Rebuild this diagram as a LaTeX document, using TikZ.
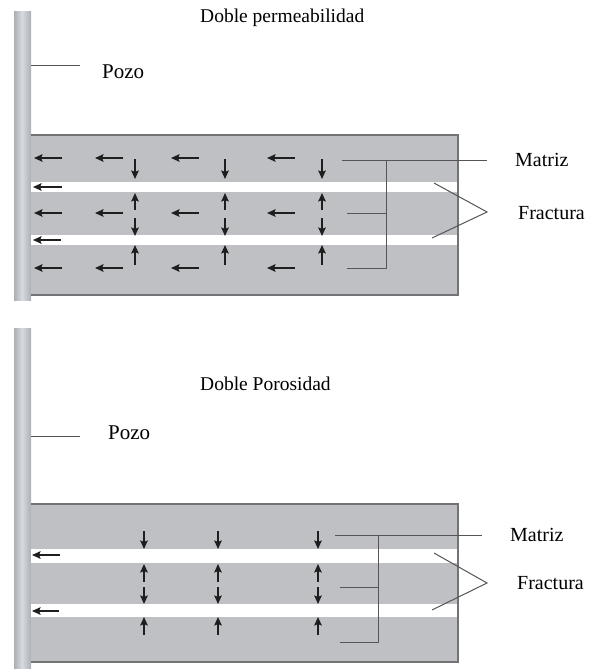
\documentclass[tikz,border=0pt]{standalone}
\usepackage{fontspec}
\setmainfont{Liberation Serif}
\usetikzlibrary{arrows.meta}
\definecolor{matrixgray}{RGB}{190,192,195}
\definecolor{wellgray}{RGB}{215,218,222}
\definecolor{welledge}{RGB}{172,176,181}
\definecolor{edgegray}{RGB}{115,115,118}
\definecolor{leadgray}{RGB}{85,85,88}
\definecolor{flowblack}{RGB}{30,30,30}
\begin{document}
\begin{tikzpicture}[x=1pt,y=-1pt,
    flow/.style={-{Stealth[length=8.5pt,width=7.5pt,inset=1.5pt]}, line width=2pt, flowblack},
    lead/.style={draw=leadgray, line width=1pt},
    lbl/.style={font=\fontsize{20}{24}\selectfont, anchor=west, inner sep=0pt},
    ttl/.style={font=\fontsize{19.5}{23}\selectfont, anchor=west, inner sep=0pt}]
    \useasboundingbox (0,0) rectangle (592,669);

    % ---------- Doble permeabilidad ----------
    \node[ttl] (titleA) at (200,18) {Doble permeabilidad};

    % Pozo
    \shade[left color=welledge, right color=wellgray] (14,12) rectangle (22,300);
    \shade[left color=wellgray, right color=welledge] (22,12) rectangle (31,300);
    \node[lbl, font=\fontsize{21}{24}\selectfont] (pozoA) at (102,72) {Pozo};
    \coordinate (pozoAw) at (31,66);
    \coordinate (pozoAe) at (80,66);
    \draw[lead] (pozoAw) -- (pozoAe);

    % Estratos (matriz) y fracturas
    \fill[matrixgray] (31,135) rectangle (458,295);
    \draw[edgegray, line width=1.2pt] (31,135) -- (458,135) -- (458,295) -- (31,295);
    \fill[white] (31,182) rectangle (457,192);
    \fill[white] (31,235) rectangle (457,245);

    % Flujo en la matriz hacia el pozo
    \foreach \y in {158,213,268}
        \foreach \x in {62,123,199,295}
            \draw[flow] (\x,\y) -- ++(-28,0);
    % Flujo en las fracturas
    \draw[flow] (62,187) -- (33,187);
    \draw[flow] (61,240) -- (33,240);
    % Flujo matriz-fractura
    \foreach \x in {135,225,322} {
        \draw[flow] (\x,159) -- (\x,179);
        \draw[flow] (\x,210) -- (\x,193);
        \draw[flow] (\x,218) -- (\x,236);
        \draw[flow] (\x,265) -- (\x,245);
    }

    % Etiquetas
    \node[lbl] (matrizA) at (515,160) {Matriz};
    \node[lbl] (fracturaA) at (518,213) {Fractura};
    \coordinate (mAtop) at (342,160);
    \coordinate (mAjoin) at (386,160);
    \coordinate (mAend) at (487,160);
    \coordinate (mAmid) at (347,213);
    \coordinate (mAlow) at (347,268);
    \draw[lead] (mAtop) -- (mAend);
    \draw[lead] (mAjoin) |- (mAlow);
    \draw[lead] (mAmid) -- (mAmid -| mAjoin);
    \coordinate (fAup) at (434,183);
    \coordinate (fAtip) at (487,212);
    \coordinate (fAdown) at (432,238);
    \draw[lead] (fAup) -- (fAtip) -- (fAdown);

    % ---------- Doble Porosidad ----------
    \node[ttl] (titleB) at (200,384) {Doble Porosidad};

    % Pozo
    \shade[left color=welledge, right color=wellgray] (14,328) rectangle (22,669);
    \shade[left color=wellgray, right color=welledge] (22,328) rectangle (31,669);
    \node[lbl, font=\fontsize{21}{24}\selectfont] (pozoB) at (108,433) {Pozo};
    \coordinate (pozoBw) at (31,436);
    \coordinate (pozoBe) at (80,436);
    \draw[lead] (pozoBw) -- (pozoBe);

    % Estratos (matriz) y fracturas
    \fill[matrixgray] (31,504) rectangle (458,662);
    \draw[edgegray, line width=1.2pt] (31,504) -- (458,504) -- (458,662) -- (31,662);
    \fill[white] (31,549) rectangle (457,563);
    \fill[white] (31,604) rectangle (457,617);

    % Flujo solo por las fracturas
    \draw[flow] (60,555) -- (32,555);
    \draw[flow] (59,611) -- (32,611);
    % Flujo matriz-fractura
    \foreach \x in {144,218,318} {
        \draw[flow] (\x,531) -- (\x,549);
        \draw[flow] (\x,582) -- (\x,564);
        \draw[flow] (\x,587) -- (\x,604);
        \draw[flow] (\x,635) -- (\x,617);
    }

    % Etiquetas
    \node[lbl] (matrizB) at (510,535) {Matriz};
    \node[lbl] (fracturaB) at (517,583) {Fractura};
    \coordinate (mBtop) at (335,535);
    \coordinate (mBjoin) at (378,535);
    \coordinate (mBend) at (482,535);
    \coordinate (mBmid) at (340,587);
    \coordinate (mBlow) at (340,642);
    \draw[lead] (mBtop) -- (mBend);
    \draw[lead] (mBjoin) |- (mBlow);
    \draw[lead] (mBmid) -- (mBmid -| mBjoin);
    \coordinate (fBup) at (434,553);
    \coordinate (fBtip) at (487,583);
    \coordinate (fBdown) at (432,610);
    \draw[lead] (fBup) -- (fBtip) -- (fBdown);
\end{tikzpicture}
\end{document}
